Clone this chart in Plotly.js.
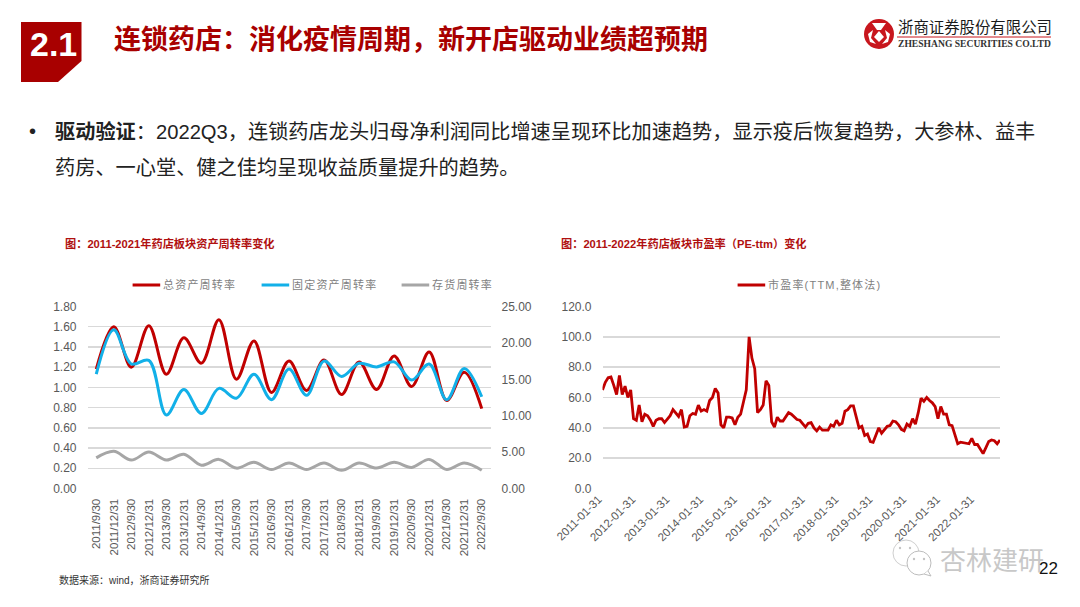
<!DOCTYPE html>
<html><head><meta charset="utf-8">
<script src="https://cdn.plot.ly/plotly-3.0.1.min.js"></script>
<style>
html,body{margin:0;padding:0;background:#fff}
.legendtext,.legend2text,.legend3text,.legend4text{letter-spacing:1.2px;transform:translateX(-5px)}
.legendlines{transform:scaleX(.92)}
</style></head><body>
<div id="chart" style="width:1080px;height:607px"></div>
<script>
// ---- left chart data ----
const quarters = ["2011/9/30","2011/12/31","2012/9/30","2012/12/31","2013/9/30","2013/12/31","2014/9/30","2014/12/31","2015/9/30","2015/12/31","2016/9/30","2016/12/31","2017/9/30","2017/12/31","2018/9/30","2018/12/31","2019/9/30","2019/12/31","2020/9/30","2020/12/31","2021/9/30","2021/12/31","2022/9/30"];
const totalTurnover = [1.18,1.60,1.20,1.61,1.13,1.49,1.24,1.67,1.08,1.46,0.95,1.26,0.97,1.27,0.93,1.25,0.98,1.31,1.01,1.35,0.87,1.15,0.79];
const fixedTurnover = [15.7,21.8,17.1,17.6,10.1,13.6,10.3,13.75,12.4,15.7,12.2,16.4,12.8,17.5,15.4,17.2,16.7,17.4,14.9,17.1,12.2,16.5,12.6];
const inventoryTurnover = [4.2,5.1,3.9,5.0,3.9,4.7,3.2,4.0,2.8,3.6,2.6,3.5,2.6,3.5,2.5,3.5,2.8,3.6,2.9,4.0,2.6,3.5,2.5];
// ---- right chart data (monthly, from 2011-01-31) ----
const peTicks = ["2011-01-31","2012-01-31","2013-01-31","2014-01-31","2015-01-31","2016-01-31","2017-01-31","2018-01-31","2019-01-31","2020-01-31","2021-01-31","2022-01-31"];
const peValues = [65,70,73,73.5,68,62,74.5,62,67.5,60,65,46,45,55,44,49,48,45,41,45,46,46,43.5,46,48,52,50,47.5,52,40.5,41,48,49.5,49,55,51,52,51,58,60,66,63,42,40,47,47,46.5,42,47,49,57,65,100,86,79,50,52,55,71,68,44,40.5,47,44.5,44.5,47,50,49,47.5,45.5,45,43,40.5,43,43.5,40,38,40.5,38.5,38.5,38.5,42,41,45,42,43,51,52,54.5,54.5,48,40,41,35,36,31,30.5,36,40,36.5,39,41,41.5,44.5,44,42,39,38,42.5,41,46,42.5,50,59.5,57.5,60,58,56.5,54,46,54,49,49,42,41.5,35,29.5,30.5,30,29.5,29.5,33,29,29,25.5,23,27,31,32,31.5,29.5,32];
const peIndex = peValues.map((_, i) => i);

const W = 1080, H = 607;
const RED = "#c00000", BLUE = "#12b0e8", GREY = "#a6a6a6", TXT = "#595959", GRID = "#d9d9d9", DARKRED = "#a80000";
const FONT = '"Liberation Sans","Noto Sans CJK SC",sans-serif';
const px = x => x / W, py = y => 1 - y / H;
const P = (cmds) => cmds.map(c => typeof c === "string" ? c : px(c[0]) + "," + py(c[1])).join(" ");

function note(x, y, text, size, color, extra) {
  return Object.assign({xref:"paper", yref:"paper", x:px(x), y:py(y), text, showarrow:false, xanchor:"left", yanchor:"middle", borderpad:0,
    font:{family:FONT, size, color}}, extra || {});
}
function circle(cx, cy, r, fill, line) {
  return {type:"circle", xref:"paper", yref:"paper", x0:px(cx-r), x1:px(cx+r), y0:py(cy+r), y1:py(cy-r), fillcolor:fill, line:line || {width:0}};
}
function path(cmds, fill, line) {
  return {type:"path", xref:"paper", yref:"paper", path:P(cmds), fillcolor:fill, line:line || {width:0}};
}

const traces = [
  {x:quarters, y:totalTurnover, name:"总资产周转率", type:"scatter", mode:"lines", showlegend:true, line:{color:RED, width:3, shape:"spline", smoothing:1}, xaxis:"x", yaxis:"y", legend:"legend"},
  {x:quarters, y:fixedTurnover, name:"固定资产周转率", type:"scatter", mode:"lines", showlegend:true, line:{color:BLUE, width:3, shape:"spline", smoothing:1}, xaxis:"x", yaxis:"y2", legend:"legend2"},
  {x:quarters, y:inventoryTurnover, name:"存货周转率", type:"scatter", mode:"lines", showlegend:true, line:{color:GREY, width:3, shape:"spline", smoothing:1}, xaxis:"x", yaxis:"y2", legend:"legend3"},
  {x:peIndex, y:peValues, name:"市盈率(TTM,整体法)", type:"scatter", mode:"lines", showlegend:true, line:{color:RED, width:2.8}, xaxis:"x2", yaxis:"y3", legend:"legend4"}
];

const yDomain = [py(488.5), py(306.5)];
const tickF = {family:FONT, size:12, color:TXT};
function legendAt(x, size) {
  return {orientation:"h", xanchor:"left", yanchor:"middle", x:px(x), y:py(285), bgcolor:"rgba(0,0,0,0)", itemwidth:30, itemclick:false,
    font:{family:FONT, size:size || 11, color:"#7f7f7f"}};
}

const layout = {
  width:W, height:H, autosize:false, margin:{l:0,r:0,t:0,b:0}, paper_bgcolor:"#fff", plot_bgcolor:"rgba(0,0,0,0)", hovermode:false,
  font:{family:FONT}, showlegend:true,
  xaxis:{domain:[px(87.5),px(490.5)], anchor:"y", type:"category", range:[-0.5,22.5], showgrid:false, zeroline:false, showline:false, ticks:"",
         tickangle:-90, tickfont:{family:FONT,size:11.5,color:TXT}, tickmode:"array", tickvals:quarters, ticktext:quarters, ticklabelstandoff:7},
  yaxis:{domain:yDomain, anchor:"x", range:[0,1.8], dtick:0.2, tickformat:".2f", gridcolor:GRID, gridwidth:1.5, zeroline:false, showline:false, ticks:"", tickfont:tickF, ticklabelstandoff:10},
  yaxis2:{domain:yDomain, anchor:"x", overlaying:"y", side:"right", range:[0,25], dtick:5, tickformat:".2f", showgrid:false, zeroline:false, showline:false, ticks:"", tickfont:tickF, ticklabelstandoff:10},
  xaxis2:{domain:[px(602.5),px(1000)], anchor:"y3", type:"linear", range:[0,141], showgrid:false, zeroline:false, showline:false, ticks:"",
         tickangle:-45, tickfont:{family:FONT,size:11.5,color:TXT}, tickmode:"array", tickvals:peTicks.map((_, i) => i*12), ticktext:peTicks, ticklabelshift:-4, ticklabelstandoff:1},
  yaxis3:{domain:yDomain, anchor:"x2", range:[0,120], dtick:20, tickformat:".1f", gridcolor:GRID, gridwidth:1.5, zeroline:false, showline:false, ticks:"", tickfont:tickF, ticklabelstandoff:10},
  legend:legendAt(128),
  legend2:legendAt(257),
  legend3:legendAt(397),
  legend4:legendAt(733),
  shapes:[
    path(["M",[21,22],"L",[81.5,22],"L",[81.5,61],"L",[58,82],"L",[21,82],"Z"], DARKRED),
    circle(879,34,15,"#c8161d"),
    path(["M",[879,31],"L",[884,37],"L",[879,42],"L",[874,37],"Z"], "#ffffff"),
    path(["M",[872,23],"L",[886,23],"L",[881,30],"L",[877,30],"Z"], "#ffffff"),
    path(["M",[868,34],"L",[873,30],"L",[871,38],"L",[876,44],"L",[870,42],"Z"], "#ffffff"),
    path(["M",[890,34],"L",[885,30],"L",[887,38],"L",[882,44],"L",[888,42],"Z"], "#ffffff"),
    {type:"line", xref:"paper", yref:"paper", x0:px(897), x1:px(1051), y0:py(37), y1:py(37), line:{color:"#c8161d", width:1}},
    circle(906,553,13,"#ffffff",{color:"#cfcfcf",width:1}),
    circle(919,563,12,"#ffffff",{color:"#bdbdbd",width:1}),
    path(["M",[928,571],"L",[931,576],"L",[924,574]], "#ffffff",{color:"#bdbdbd",width:1}),
    circle(900,548,1.2,"#c4c4c4"), circle(910,548,1.2,"#c4c4c4"),
    circle(914,559,1.2,"#c4c4c4"), circle(924,559,1.2,"#c4c4c4")
  ],
  annotations:[
    note(29,44,"<b>2.1</b>",34,"#ffffff"),
    note(113,40,"<b>连锁药店：消化疫情周期，新开店驱动业绩超预期</b>",27,DARKRED),
    note(897,27,"浙商证券股份有限公司",15.4,"#1a1a1a"),
    note(897,44,"<b>ZHESHANG SECURITIES CO.LTD</b>",9.6,"#333333",{font:{family:'"Liberation Serif",serif',size:9.6,color:"#333333"}}),
    note(28,131.5,"•",20.2,"#222222"),
    note(54,131.5,"<b>驱动验证</b>：2022Q3，连锁药店龙头归母净利润同比增速呈现环比加速趋势，显示疫后恢复趋势，大参林、益丰",20.2,"#222222"),
    note(54,168,"药房、一心堂、健之佳均呈现收益质量提升的趋势。",20.2,"#222222"),
    note(64,243,"<b>图：2011-2021年药店板块资产周转率变化</b>",11.2,"#b01010"),
    note(560,243,"<b>图：2011-2022年药店板块市盈率（PE-ttm）变化</b>",11.2,"#b01010"),
    note(58,580,"数据来源：wind，浙商证券研究所",10,"#333333"),
    note(939,561,"杏林建研",26,"#c8c8c8"),
    note(1038,568,"22",17,"#111111")
  ]
};
Plotly.newPlot("chart", traces, layout, {displayModeBar:false, staticPlot:true});
</script>
</body></html>
